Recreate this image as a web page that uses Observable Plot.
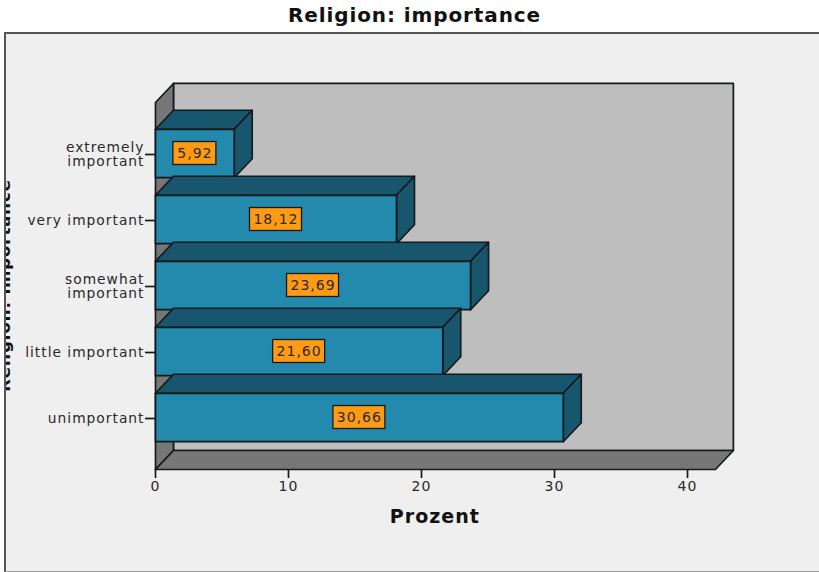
<!DOCTYPE html>
<html>
<head>
<meta charset="utf-8">
<script src="https://cdn.jsdelivr.net/npm/d3@7"></script>
<script src="https://cdn.jsdelivr.net/npm/@observablehq/plot@0.6"></script>
<style>
  html, body { margin: 0; padding: 0; background: #fff; overflow: hidden; width: 819px; height: 572px; }
  #title { height: 32px; margin-left: 10px; text-align: center; font: bold 20px/31px "DejaVu Sans", sans-serif; letter-spacing: 0.9px; color: #111; }
  #panel { margin-left: 4px; width: 815px; height: 540px; box-sizing: border-box; background: #efefef;
           border-left: 2px solid #555; border-top: 2px solid #555; border-bottom: 1px solid #999; overflow: hidden; }
  #panel svg { display: block; }
</style>
</head>
<body>
<div id="title">Religion: importance</div>
<div id="panel"></div>
<script>
const categories = ["unimportant", "little important", "somewhat\nimportant", "very important", "extremely\nimportant"];
const values = [30.66, 21.60, 23.69, 18.12, 5.92];
const xTicks = [0, 10, 20, 30, 40];
const xTitle = "Prozent";
const yTitle = "Religion: importance";

// depth of the pseudo-3D extrusion and the extent of the room, in data units
const depthX = 1.35, depthY = 0.288, halfBar = 0.367;
const roomRight = 42.1, roomBottom = -0.788, roomTop = 4.773;
const halfBoxH = 0.174;

const ink = "#151a1c";
const sw = 1.7;
const face = (pts, fill) => Plot.line(pts.map(([x, y]) => ({x, y})), {
  x: "x", y: "y", curve: "linear-closed", fill, stroke: ink, strokeWidth: sw, strokeLinejoin: "round"
});
const comma = v => v.toFixed(2).replace(".", ",");

const room = [
  face([[depthX, roomBottom + depthY], [roomRight + depthX, roomBottom + depthY], [roomRight + depthX, roomTop + depthY], [depthX, roomTop + depthY]], "#bebebe"),
  face([[0, roomBottom], [depthX, roomBottom + depthY], [depthX, roomTop + depthY], [0, roomTop]], "#777777"),
  face([[0, roomBottom], [roomRight, roomBottom], [roomRight + depthX, roomBottom + depthY], [depthX, roomBottom + depthY]], "#777777")
];

const bars = [];
for (let i = values.length - 1; i >= 0; i--) {
  const v = values[i], t = i + halfBar, b = i - halfBar;
  bars.push(
    face([[0, t], [v, t], [v + depthX, t + depthY], [depthX, t + depthY]], "#17566c"),
    face([[v, b], [v + depthX, b + depthY], [v + depthX, t + depthY], [v, t]], "#17566c"),
    face([[0, b], [v, b], [v, t], [0, t]], "#2389ad")
  );
}

const rows = values.map((v, i) => ({i, v, label: comma(v), half: (comma(v).length * 9 + 7) / 2 / 13.3}));

const chart = Plot.plot({
  width: 813, height: 537,
  marginLeft: 149, marginRight: 0, marginTop: 0, marginBottom: 102,
  x: {domain: [0, 40], range: [149, 681]},
  y: {domain: [0, 4], range: [383, 119]},
  style: {background: "transparent", fontFamily: "'DejaVu Sans', sans-serif", color: "#2a2a2a", overflow: "hidden", letterSpacing: "1px"},
  marks: [
    ...room,
    ...bars,
    Plot.rect(rows, {
      x1: d => d.v / 2 - d.half, x2: d => d.v / 2 + d.half,
      y1: d => d.i - halfBoxH, y2: d => d.i + halfBoxH,
      fill: "#ff9a14", stroke: ink, strokeWidth: 1.3
    }),
    Plot.text(rows, {x: d => d.v / 2, y: "i", text: "label", fontSize: 14, fill: "#2a2a2a"}),
    Plot.axisX({ticks: xTicks, tickSize: 9, tickPadding: 3, tickFormat: d => d, fontSize: 14, stroke: ink, strokeWidth: 1.7, label: null}),
    Plot.axisY({ticks: d3.range(categories.length), tickSize: 10, tickPadding: 1, tickFormat: i => categories[i], fontSize: 13.8, lineHeight: 1, textStroke: "none", dy: 1, stroke: ink, strokeWidth: 1.7, label: null}),
    Plot.text([xTitle], {x: 21, y: roomBottom - 0.72, text: d => d, fontSize: 19, fontWeight: "bold", fill: "#111"}),
    Plot.text([yTitle], {x: -10.95, y: 2, text: d => d, rotate: -90, lineAnchor: "bottom", fontSize: 16.4, fontWeight: "bold", fill: "#111"})
  ]
});
document.getElementById("panel").appendChild(chart);
</script>
</body>
</html>
